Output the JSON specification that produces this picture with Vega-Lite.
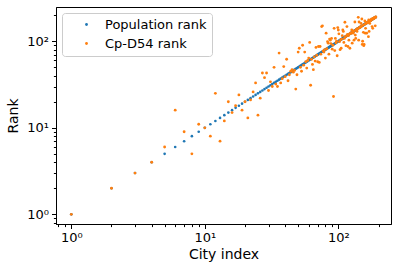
{
  "$schema": "https://vega.github.io/schema/vega-lite/v6.json",
  "width": 335,
  "height": 217,
  "autosize": {"type": "none"},
  "padding": {"left": 56, "top": 7, "right": 7, "bottom": 49},
  "background": "white",
  "config": {
    "font": "DejaVu Sans",
    "view": {"stroke": "black", "strokeWidth": 1},
    "axis": {
      "domainColor": "black", "tickColor": "black", "labelColor": "black", "titleColor": "black",
      "labelFont": "DejaVu Sans", "titleFont": "DejaVu Sans", "labelFontSize": 13, "titleFontSize": 14,
      "titleFontWeight": "normal", "grid": false, "labelOverlap": false, "labelFlush": false
    },
    "legend": {"labelFont": "DejaVu Sans", "labelFontSize": 13, "labelColor": "black", "symbolOffset": 13, "labelOffset": 12}
  },
  "data": {"values": [
    {"city":1,"pop":1,"cp":1},{"city":2,"pop":2,"cp":2},{"city":3,"pop":3,"cp":3},{"city":4,"pop":4,"cp":4},{"city":5,"pop":5,"cp":6},
    {"city":6,"pop":6,"cp":16},{"city":7,"pop":7,"cp":9},{"city":8,"pop":8,"cp":5},{"city":9,"pop":9,"cp":11},{"city":10,"pop":10,"cp":10},
    {"city":11,"pop":11,"cp":8},{"city":12,"pop":12,"cp":25},{"city":13,"pop":13,"cp":7},{"city":14,"pop":14,"cp":12},{"city":15,"pop":15,"cp":20},
    {"city":16,"pop":16,"cp":15},{"city":17,"pop":17,"cp":18},{"city":18,"pop":18,"cp":24},{"city":19,"pop":19,"cp":16},{"city":20,"pop":20,"cp":20},
    {"city":21,"pop":21,"cp":13},{"city":22,"pop":22,"cp":21},{"city":23,"pop":23,"cp":26},{"city":24,"pop":24,"cp":33},{"city":25,"pop":25,"cp":14},
    {"city":26,"pop":26,"cp":22},{"city":27,"pop":27,"cp":43},{"city":28,"pop":28,"cp":38},{"city":29,"pop":29,"cp":43},{"city":30,"pop":30,"cp":27},
    {"city":31,"pop":31,"cp":34},{"city":32,"pop":32,"cp":30},{"city":33,"pop":33,"cp":50},{"city":34,"pop":34,"cp":32},{"city":35,"pop":35,"cp":30},
    {"city":36,"pop":36,"cp":73},{"city":37,"pop":37,"cp":33},{"city":38,"pop":38,"cp":37},{"city":39,"pop":39,"cp":51},{"city":40,"pop":40,"cp":39},
    {"city":41,"pop":41,"cp":62},{"city":42,"pop":42,"cp":35},{"city":43,"pop":43,"cp":41},{"city":44,"pop":44,"cp":45},{"city":45,"pop":45,"cp":47},
    {"city":46,"pop":46,"cp":44},{"city":47,"pop":47,"cp":46},{"city":48,"pop":48,"cp":28},{"city":49,"pop":49,"cp":41},{"city":50,"pop":50,"cp":75},
    {"city":51,"pop":51,"cp":83},{"city":52,"pop":52,"cp":50},{"city":53,"pop":53,"cp":45},{"city":54,"pop":54,"cp":90},{"city":55,"pop":55,"cp":53},
    {"city":56,"pop":56,"cp":75},{"city":57,"pop":57,"cp":58},{"city":58,"pop":58,"cp":49},{"city":59,"pop":59,"cp":60},{"city":60,"pop":60,"cp":64},
    {"city":61,"pop":61,"cp":97},{"city":62,"pop":62,"cp":31},{"city":63,"pop":63,"cp":62},{"city":64,"pop":64,"cp":54},{"city":65,"pop":65,"cp":47},
    {"city":66,"pop":66,"cp":66},{"city":67,"pop":67,"cp":59},{"city":68,"pop":68,"cp":85},{"city":69,"pop":69,"cp":69},{"city":70,"pop":70,"cp":58},
    {"city":71,"pop":71,"cp":87},{"city":72,"pop":72,"cp":57},{"city":73,"pop":73,"cp":87},{"city":74,"pop":74,"cp":71},{"city":75,"pop":75,"cp":148},
    {"city":76,"pop":76,"cp":151},{"city":77,"pop":77,"cp":77},{"city":78,"pop":78,"cp":75},{"city":79,"pop":79,"cp":80},{"city":80,"pop":80,"cp":64},
    {"city":81,"pop":81,"cp":124},{"city":82,"pop":82,"cp":82},{"city":83,"pop":83,"cp":99},{"city":84,"pop":84,"cp":95},{"city":85,"pop":85,"cp":71},
    {"city":86,"pop":86,"cp":106},{"city":87,"pop":87,"cp":103},{"city":88,"pop":88,"cp":94},{"city":89,"pop":89,"cp":108},{"city":90,"pop":90,"cp":81},
    {"city":91,"pop":91,"cp":90},{"city":92,"pop":92,"cp":23},{"city":93,"pop":93,"cp":141},{"city":94,"pop":94,"cp":78},{"city":95,"pop":95,"cp":108},
    {"city":96,"pop":96,"cp":96},{"city":97,"pop":97,"cp":100},{"city":98,"pop":98,"cp":68},{"city":99,"pop":99,"cp":144},{"city":100,"pop":100,"cp":135},
    {"city":101,"pop":101,"cp":122},{"city":102,"pop":102,"cp":99},{"city":103,"pop":103,"cp":80},{"city":104,"pop":104,"cp":104},{"city":105,"pop":105,"cp":83},
    {"city":106,"pop":106,"cp":106},{"city":107,"pop":107,"cp":116},{"city":108,"pop":108,"cp":135},{"city":109,"pop":109,"cp":130},{"city":110,"pop":110,"cp":97},
    {"city":111,"pop":111,"cp":108},{"city":112,"pop":112,"cp":166},{"city":113,"pop":113,"cp":113},{"city":114,"pop":114,"cp":89},{"city":115,"pop":115,"cp":115},
    {"city":116,"pop":116,"cp":148},{"city":117,"pop":117,"cp":120},{"city":118,"pop":118,"cp":87},{"city":119,"pop":119,"cp":116},{"city":120,"pop":120,"cp":103},
    {"city":121,"pop":121,"cp":121},{"city":122,"pop":122,"cp":83},{"city":123,"pop":123,"cp":123},{"city":124,"pop":124,"cp":125},{"city":125,"pop":125,"cp":124},
    {"city":126,"pop":126,"cp":135},{"city":127,"pop":127,"cp":95},{"city":128,"pop":128,"cp":128},{"city":129,"pop":129,"cp":124},{"city":130,"pop":130,"cp":130},
    {"city":131,"pop":131,"cp":103},{"city":132,"pop":132,"cp":132},{"city":133,"pop":133,"cp":167},{"city":134,"pop":134,"cp":118},{"city":135,"pop":135,"cp":108},
    {"city":136,"pop":136,"cp":136},{"city":137,"pop":137,"cp":137},{"city":138,"pop":138,"cp":130},{"city":139,"pop":139,"cp":140},{"city":140,"pop":140,"cp":139},
    {"city":141,"pop":141,"cp":189},{"city":142,"pop":142,"cp":103},{"city":143,"pop":143,"cp":167},{"city":144,"pop":144,"cp":144},{"city":145,"pop":145,"cp":145},
    {"city":146,"pop":146,"cp":147},{"city":147,"pop":147,"cp":146},{"city":148,"pop":148,"cp":161},{"city":149,"pop":149,"cp":149},{"city":150,"pop":150,"cp":181},
    {"city":151,"pop":151,"cp":92},{"city":152,"pop":152,"cp":100},{"city":153,"pop":153,"cp":153},{"city":154,"pop":154,"cp":127},{"city":155,"pop":155,"cp":89},
    {"city":156,"pop":156,"cp":92},{"city":157,"pop":157,"cp":157},{"city":158,"pop":158,"cp":172},{"city":159,"pop":159,"cp":124},{"city":160,"pop":160,"cp":141},
    {"city":161,"pop":161,"cp":160},{"city":162,"pop":162,"cp":162},{"city":163,"pop":163,"cp":124},{"city":164,"pop":164,"cp":164},{"city":165,"pop":165,"cp":165},
    {"city":166,"pop":166,"cp":166},{"city":167,"pop":167,"cp":167},{"city":168,"pop":168,"cp":113},{"city":169,"pop":169,"cp":177},{"city":170,"pop":170,"cp":130},
    {"city":171,"pop":171,"cp":171},{"city":172,"pop":172,"cp":161},{"city":173,"pop":173,"cp":173},{"city":174,"pop":174,"cp":174},{"city":175,"pop":175,"cp":175},
    {"city":176,"pop":176,"cp":176},{"city":177,"pop":177,"cp":178},{"city":178,"pop":178,"cp":181},{"city":179,"pop":179,"cp":148},{"city":180,"pop":180,"cp":180},
    {"city":181,"pop":181,"cp":141},{"city":182,"pop":182,"cp":182},{"city":183,"pop":183,"cp":183},{"city":184,"pop":184,"cp":184},{"city":185,"pop":185,"cp":185},
    {"city":186,"pop":186,"cp":186},{"city":187,"pop":187,"cp":188},{"city":188,"pop":188,"cp":187},{"city":189,"pop":189,"cp":151},{"city":190,"pop":190,"cp":190},
    {"city":191,"pop":191,"cp":191}
  ]},
  "encoding": {
    "x": {
      "field": "city", "type": "quantitative",
      "scale": {"type": "log", "domain": [0.768, 248], "nice": false},
      "axis": {
        "title": "City index", "titlePadding": 3,
        "values": [0.8,0.9,1,2,3,4,5,6,7,8,9,10,20,30,40,50,60,70,80,90,100,200],
        "labelExpr": "datum.value == 1 ? '10⁰' : datum.value == 10 ? '10¹' : datum.value == 100 ? '10²' : ''",
        "tickSize": {"condition": {"test": "datum.value == 1 || datum.value == 10 || datum.value == 100", "value": 4.5}, "value": 2.6},
        "labelPadding": 3
      }
    },
    "color": {
      "datum": "Population rank", "type": "nominal",
      "scale": {"domain": ["Population rank", "Cp-D54 rank"], "range": ["#1f77b4", "#ff7f0e"]},
      "legend": {
        "title": null, "orient": "top-left", "offset": 6,
        "strokeColor": "#cccccc", "fillColor": "white", "cornerRadius": 3,
        "padding": 5, "rowPadding": 5, "symbolType": "circle", "symbolSize": 8
      }
    }
  },
  "layer": [
    {
      "mark": {"type": "point", "shape": "circle", "filled": true, "size": 7, "opacity": 1},
      "encoding": {
        "y": {
          "field": "pop", "type": "quantitative",
          "scale": {"type": "log", "domain": [0.773, 249], "nice": false},
          "axis": {
            "title": "Rank", "titlePadding": 6,
            "values": [0.8,0.9,1,2,3,4,5,6,7,8,9,10,20,30,40,50,60,70,80,90,100,200],
            "labelExpr": "datum.value == 1 ? '10⁰' : datum.value == 10 ? '10¹' : datum.value == 100 ? '10²' : ''",
            "tickSize": {"condition": {"test": "datum.value == 1 || datum.value == 10 || datum.value == 100", "value": 4.5}, "value": 2.6},
            "labelPadding": 3
          }
        }
      }
    },
    {
      "mark": {"type": "point", "shape": "circle", "filled": true, "size": 8, "opacity": 1},
      "encoding": {
        "y": {"field": "cp", "type": "quantitative"},
        "color": {"datum": "Cp-D54 rank", "type": "nominal"}
      }
    }
  ]
}
